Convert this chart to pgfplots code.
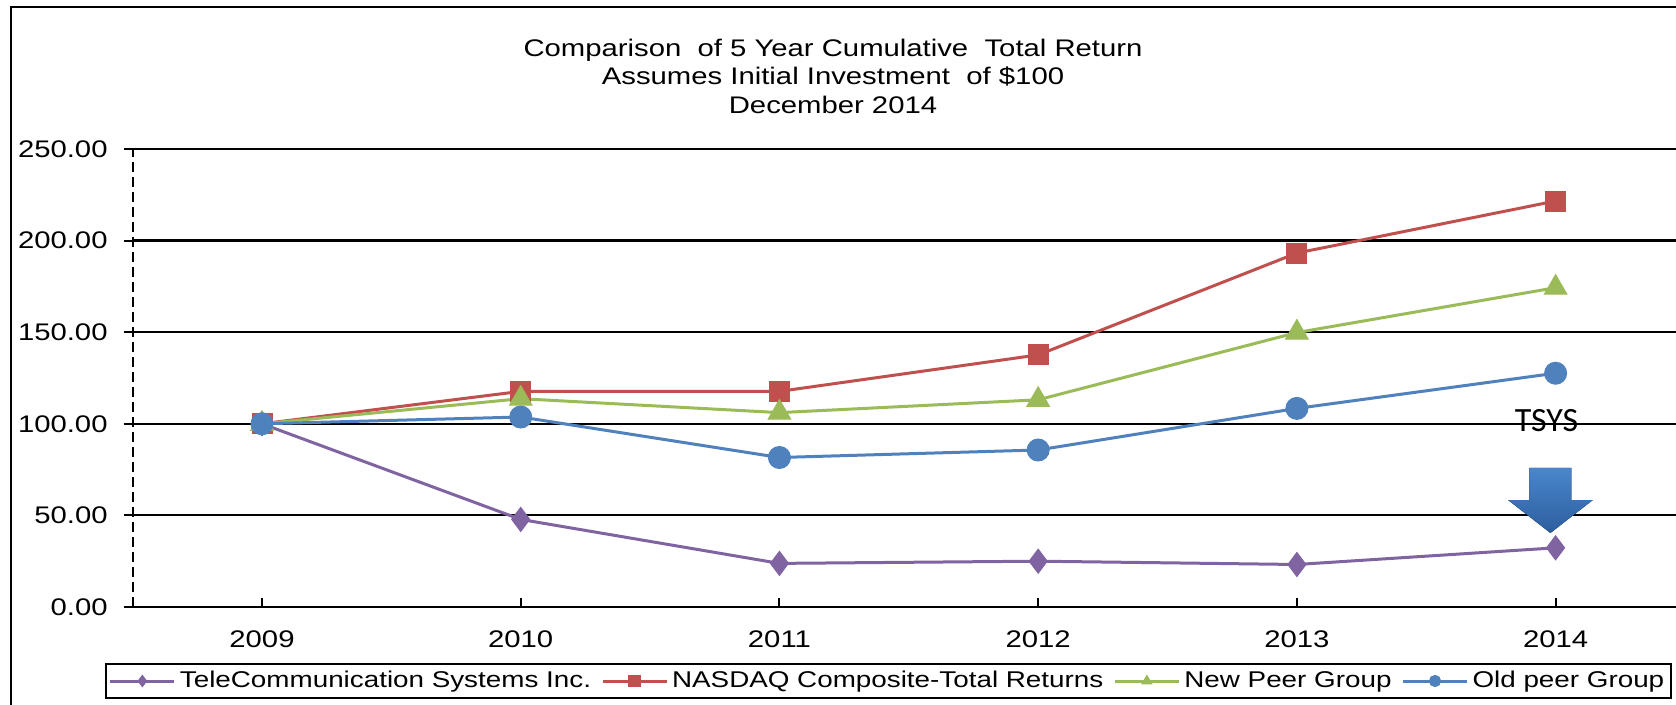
\documentclass[border=0pt]{standalone}
\usepackage{fontspec}
\setmainfont{Liberation Sans}[FakeStretch=1.22]
\newfontfamily\calibri{Carlito}
\usepackage{pgfplots}
\pgfplotsset{compat=1.18}

\definecolor{tcs}{HTML}{8064A2}
\definecolor{nasdaq}{HTML}{C0504D}
\definecolor{newpeer}{HTML}{9BBB59}
\definecolor{oldpeer}{HTML}{4F81BD}
\definecolor{arrowtop}{HTML}{4A86CC}
\definecolor{arrowbot}{HTML}{2C5E9E}

\begin{document}
\begin{tikzpicture}
\useasboundingbox (0pt,0pt) rectangle (838pt,352.5pt);
\draw[line width=1pt] (5.5pt,0pt) -- (5.5pt,349pt) -- (838pt,349pt);
\node[align=center, font=\fontsize{12}{14.25}\selectfont] at (416.5pt,314.5pt)
  {Comparison\ \ of 5 Year Cumulative\ \ Total Return\\
   Assumes Initial Investment\ \ of \$100\\
   December 2014};

\begin{axis}[
  at={(131pt,49pt)}, anchor=origin,
  scale only axis, width=771.5pt, height=229pt,
  xmin=-0.5, xmax=5.464, ymin=0, ymax=250,
  xtick={0,...,5}, xticklabels={2009,2010,2011,2012,2013,2014},
  ytick={0,50,...,250},
  axis x line*=bottom, axis y line*=left,
  x axis line style={-, line width=1pt},
  y axis line style={-, line width=1pt, dash pattern=on 5pt off 2.5pt},
  ymajorgrids, major grid style={black, line width=1.1pt},
  tick style={black, line width=1pt},
  major tick length=4.5pt,
  xtick align=inside, ytick align=outside,
  ticklabel style={font=\fontsize{12}{14}\selectfont},
  yticklabel style={xshift=-4.5pt, /pgf/number format/fixed, /pgf/number format/fixed zerofill,
    /pgf/number format/precision=2, /pgf/number format/assume math mode=true},
  xticklabel style={yshift=-8.5pt},
  legend columns=-1,
  legend style={at={(-0.018,-0.1616)}, anchor=west, draw=black, line width=1pt,
    font=\fontsize{11.4}{13}\selectfont, inner sep=1.5pt,
    /tikz/every even column/.append style={column sep=3pt}},
  legend image code/.code={\draw[mark repeat=2, mark phase=2] plot coordinates {(0pt,0pt) (16pt,0pt) (32pt,0pt)};},
  legend image post style={mark size=2.8pt},
]
\addplot[tcs, line width=1.5pt, mark=diamond*, mark size=6pt, mark options={tcs, line width=0.5pt}]
  coordinates {(0,100) (1,47.8) (2,23.8) (3,25.0) (4,23.2) (5,32.3)};
\addlegendentry{TeleCommunication Systems Inc.}
\addplot[nasdaq, line width=1.5pt, mark=square*, mark size=5pt, mark options={nasdaq, line width=0.5pt}]
  coordinates {(0,100) (1,117.7) (2,117.7) (3,137.6) (4,193.2) (5,221.6)};
\addlegendentry{NASDAQ Composite-Total Returns}
\addplot[newpeer, line width=1.5pt, mark=triangle*, mark size=6.5pt, mark options={newpeer, line width=0.5pt}]
  coordinates {(0,100) (1,113.7) (2,106.1) (3,113.1) (4,149.8) (5,174.3)};
\addlegendentry{New Peer Group}
\addplot[oldpeer, line width=1.5pt, mark=*, mark size=5.5pt, mark options={oldpeer, line width=0.5pt}]
  coordinates {(0,100) (1,103.7) (2,81.6) (3,85.7) (4,108.4) (5,127.6)};
\addlegendentry{Old peer Group}

\fill[top color=arrowtop, bottom color=arrowbot]
  (axis cs:4.899,75.9) -- (axis cs:5.061,75.9) -- (axis cs:5.061,58.4) -- (axis cs:5.144,58.4)
  -- (axis cs:4.98,40.4) -- (axis cs:4.816,58.4) -- (axis cs:4.899,58.4) -- cycle;
\node[font=\calibri\fontsize{17}{20}\selectfont] at (axis cs:4.965,101.5) {TSYS};
\end{axis}
\end{tikzpicture}
\end{document}
